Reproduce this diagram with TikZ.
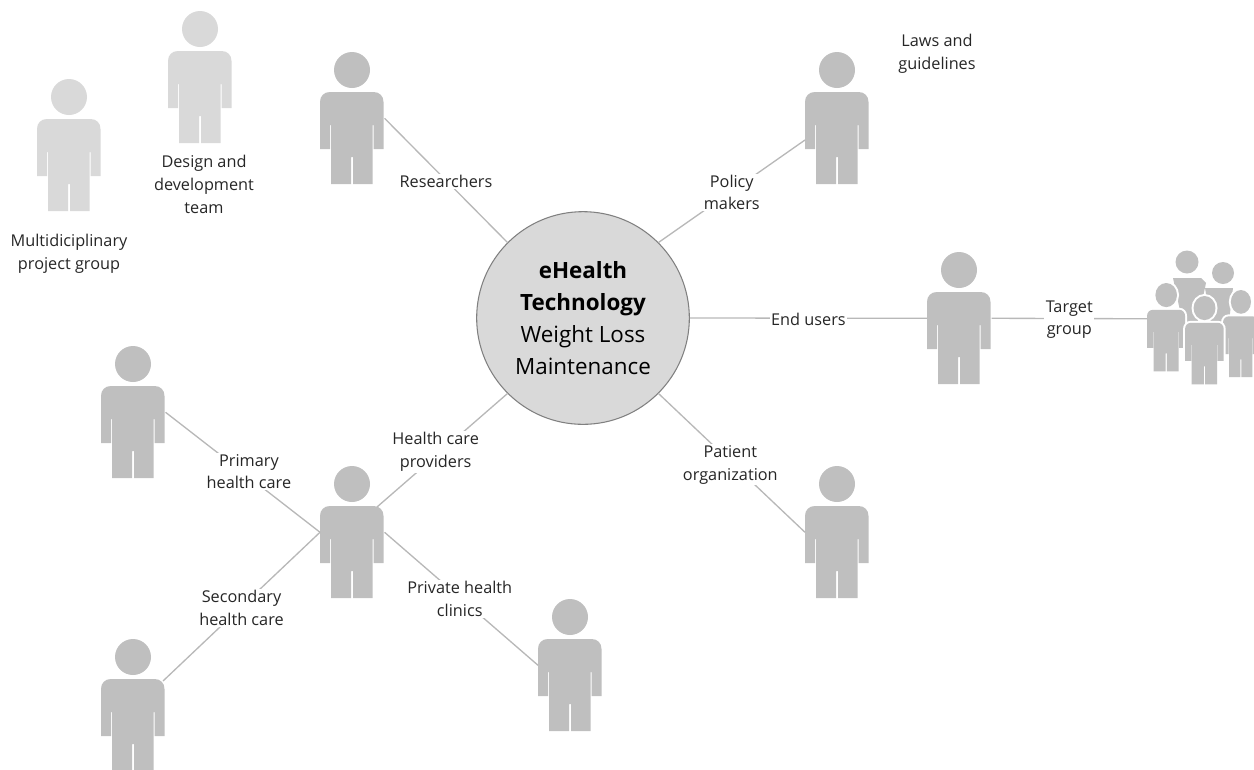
\documentclass[tikz,border=0pt]{standalone}
\usepackage{fontspec}
\setmainfont{Open Sans}
\usepackage{xcolor}
\definecolor{person-dark}{HTML}{BFBFBF}
\definecolor{person-light}{HTML}{D9D9D9}
\definecolor{link-grey}{HTML}{B8B8B8}
\definecolor{text-dark}{HTML}{262626}
\tikzset{
    person-box/.style = {rectangle, anchor=north west, minimum width=48pt, minimum height=99pt, inner sep=0pt},
    group-box/.style = {rectangle, anchor=north west, minimum width=80.25pt, minimum height=99.75pt, inner sep=0pt},
    center-circle/.style = {draw=black!50, fill=person-light, line width=0.8pt, circle, minimum size=159.5pt, inner sep=0pt, font=\fontsize{16.8}{24}\selectfont, text=black, align=center},
    link/.style = {draw=link-grey, line width=1pt},
    link-label/.style = {fill=white, inner sep=1pt, yshift=-1pt, text=text-dark, font=\fontsize{12.2}{16.8}\selectfont, align=center},
    plain-label/.style = {text=text-dark, font=\fontsize{12.2}{17}\selectfont, align=center, inner sep=0pt},
    halo/.style = {fill=white, draw=white, line width=3pt},
    pics/person/.style = {code={
        \fill[#1] (32,18) circle [radius=18];
        \fill[#1] (0,50) .. controls (0,44) and (4,40) .. (10,40) -- (53.5,40)
            .. controls (59.5,40) and (63.5,44) .. (63.5,50) -- (63.5,97) -- (53.5,97) -- (53.5,73) -- (52.5,73)
            -- (52.5,132) -- (33,132) -- (33,105) -- (31,105) -- (31,132) -- (11,132)
            -- (11,73) -- (10,73) -- (10,97) -- (0,97) -- cycle;
    }},
}
\begin{document}
\begin{tikzpicture}[x=0.75pt, y=-0.75pt]
\path[use as bounding box, clip] (0,0) rectangle (1254,769);

\node[person-box] (multi) at (37,79) {};
\pic at (multi.north west) {person={fill=person-light}};
\node[person-box] (design) at (168,11) {};
\pic at (design.north west) {person={fill=person-light}};
\node[person-box] (researchers) at (320,52) {};
\pic at (researchers.north west) {person={fill=person-dark}};
\node[person-box] (policy) at (805,52) {};
\pic at (policy.north west) {person={fill=person-dark}};
\node[person-box] (users) at (927,252) {};
\pic at (users.north west) {person={fill=person-dark}};
\node[person-box] (patient) at (805,466) {};
\pic at (patient.north west) {person={fill=person-dark}};
\node[person-box] (providers) at (320,466) {};
\pic at (providers.north west) {person={fill=person-dark}};
\node[person-box] (primary) at (101,346) {};
\pic at (primary.north west) {person={fill=person-dark}};
\node[person-box] (secondary) at (101,639) {};
\pic at (secondary.north west) {person={fill=person-dark}};
\node[person-box] (private) at (538,599) {};
\pic at (private.north west) {person={fill=person-dark}};

\node[group-box] (target) at (1147,252) {};
\fill[person-dark] (1187,262) circle [radius=11.5];
\fill[person-dark] (1223,273) circle [radius=11];
\fill[person-dark] (1173,278) -- (1201,278) -- (1206,283) -- (1196,330) -- (1182,320) -- cycle;
\fill[person-dark] (1205,288) -- (1233,288) -- (1228,330) -- (1212,330) -- cycle;
\pic[xscale=0.6, yscale=0.67] at (1147,283) {person={halo}};
\pic[xscale=0.6, yscale=0.67] at (1147,283) {person={fill=person-dark}};
\pic[xscale=0.56, yscale=0.66] at (1223,290) {person={halo}};
\pic[xscale=0.56, yscale=0.66] at (1223,290) {person={fill=person-dark}};
\pic[xscale=0.61, yscale=0.67] at (1185,296) {person={halo}};
\pic[xscale=0.61, yscale=0.67] at (1185,296) {person={fill=person-dark}};

\node[center-circle] (ehealth) at (583,318) {\textbf{eHealth}\\\textbf{Technology}\\Weight Loss\\Maintenance};

\node[plain-label] (multi-text) at (69,254) {Multidiciplinary\\project group};
\node[plain-label] (design-text) at (204,184.5) {Design and\\development\\team};
\node[plain-label] (laws-text) at (937,53.5) {Laws and\\guidelines};

\coordinate (policy-arm) at (805,140);
\coordinate (providers-arm) at (377,507);
\coordinate (secondary-arm) at (163,681);

\draw[link] (researchers.east) -- node[link-label] {Researchers} (ehealth.north west);
\draw[link] (policy-arm) -- node[link-label] {Policy\\makers} (ehealth.north east);
\draw[link] (ehealth.east) -- node[link-label] {End users} (users.west);
\draw[link] (users.east) -- node[link-label] {Target\\group} (target.west);
\draw[link] (ehealth.south east) -- node[link-label, pos=0.49, yshift=-1.5pt] {Patient\\organization} (patient.west);
\draw[link] (providers-arm) -- node[link-label, pos=0.45, yshift=4pt] {Health care\\providers} (ehealth.south west);
\draw[link] (primary.east) -- node[link-label, pos=0.54, yshift=5pt] {Primary\\health care} (providers.west);
\draw[link] (secondary-arm) -- node[link-label, pos=0.5] {Secondary\\health care} (providers.west);
\draw[link] (providers.east) -- node[link-label, pos=0.49] {Private health\\clinics} (private.west);
\end{tikzpicture}
\end{document}
